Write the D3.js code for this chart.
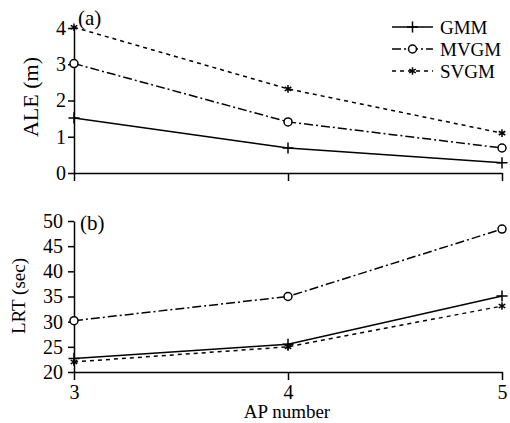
<!DOCTYPE html>
<html>
<head>
<meta charset="utf-8">
<script src="https://cdn.jsdelivr.net/npm/d3@7"></script>
<style>
  body { margin: 0; background: #fff; }
  svg text { font-family: "Liberation Serif", "Times New Roman", Times, serif !important; fill: #000; }
</style>
</head>
<body>
<svg id="chart"></svg>
<script>
var width = 510,
    height = 423;

// data
var apNumbers = [3, 4, 5];
var seriesNames = ["GMM", "MVGM", "SVGM"];
var aleGMM = [1.52, 0.69, 0.28];
var aleMVGM = [3.02, 1.41, 0.69];
var aleSVGM = [4.02, 2.32, 1.10];
var lrtGMM = [22.7, 25.5, 35.1];
var lrtMVGM = [30.2, 35.0, 48.4];
var lrtSVGM = [22.0, 25.0, 33.1];
var aleTicks = [0, 1, 2, 3, 4];
var lrtTicks = [20, 25, 30, 35, 40, 45, 50];

var styles = {
  GMM: { dash: null, symbol: d3.symbolPlus, size: 42, fill: "none" },
  MVGM: { dash: "9,3,2,3", symbol: d3.symbolCircle, size: 50, fill: "#fff" },
  SVGM: { dash: "4,4", symbol: d3.symbolAsterisk, size: 40, fill: "none" }
};

var serif = "'Liberation Serif', 'Times New Roman', serif";

var svg = d3.select("#chart").attr("width", width).attr("height", height)
  .attr("font-family", serif);

var x = d3.scaleLinear().domain([3, 5]).range([74, 502]);
var yTop = d3.scaleLinear().domain([0, 4]).range([173, 28]);
var yBot = d3.scaleLinear().domain([20, 50]).range([372, 221]);

function drawPanel(y, ticks, data, showLabels, pad) {
  var g = svg.append("g");

  var xAxis = d3.axisBottom(x).tickValues(apNumbers).tickSize(8).tickSizeOuter(0)
    .tickPadding(5)
    .tickFormat(showLabels ? d3.format("d") : "");
  var xg = g.append("g").attr("transform", "translate(0," + y.range()[0] + ")").call(xAxis);
  xg.attr("font-family", serif).attr("font-size", 20);
  xg.select(".domain").attr("stroke-width", 1.5);
  xg.selectAll(".tick line").attr("stroke-width", 1.5);

  var yAxis = d3.axisLeft(y).tickValues(ticks).tickSize(6).tickSizeOuter(0).tickPadding(pad)
    .tickFormat(d3.format("d"));
  var yg = g.append("g").attr("transform", "translate(" + x.range()[0] + ",0)").call(yAxis);
  yg.attr("font-family", serif).attr("font-size", 20);
  yg.select(".domain").attr("stroke-width", 1.5);
  yg.selectAll(".tick line").attr("stroke-width", 1.5);

  var line = d3.line().x(function(d, i) { return x(apNumbers[i]); }).y(function(d) { return y(d); });

  seriesNames.forEach(function(name, k) {
    var st = styles[name];
    g.append("path")
      .datum(data[k])
      .attr("d", line)
      .attr("fill", "none")
      .attr("stroke", "#000")
      .attr("stroke-width", 1.5)
      .attr("stroke-dasharray", st.dash);
    g.selectAll(".m" + name)
      .data(data[k])
      .enter().append("path")
      .attr("transform", function(d, i) { return "translate(" + x(apNumbers[i]) + "," + y(d) + ")"; })
      .attr("d", d3.symbol().type(st.symbol).size(st.size))
      .attr("fill", st.fill)
      .attr("stroke", "#000")
      .attr("stroke-width", 1.5);
  });
}

drawPanel(yTop, aleTicks, [aleGMM, aleMVGM, aleSVGM], false, 2);
drawPanel(yBot, lrtTicks, [lrtGMM, lrtMVGM, lrtSVGM], true, 5);

// panel tags
svg.append("text").attr("x", 78).attr("y", 25).attr("font-size", 21).text("(a)");
svg.append("text").attr("x", 80).attr("y", 230).attr("font-size", 21).text("(b)");

// axis titles
svg.append("text")
  .attr("transform", "translate(38,97) rotate(-90)")
  .attr("text-anchor", "middle")
  .attr("font-size", 22)
  .text("ALE (m)");
svg.append("text")
  .attr("transform", "translate(25,296) rotate(-90)")
  .attr("text-anchor", "middle")
  .attr("font-size", 19)
  .text("LRT (sec)");
svg.append("text")
  .attr("x", 287).attr("y", 418)
  .attr("text-anchor", "middle")
  .attr("font-size", 19)
  .text("AP number");

// legend
var legend = svg.append("g");
seriesNames.forEach(function(name, k) {
  var st = styles[name];
  var ly = 27 + k * 22;
  legend.append("line")
    .attr("x1", 392).attr("x2", 433).attr("y1", ly).attr("y2", ly)
    .attr("stroke", "#000").attr("stroke-width", 1.5)
    .attr("stroke-dasharray", st.dash);
  legend.append("path")
    .attr("transform", "translate(412.5," + ly + ")")
    .attr("d", d3.symbol().type(st.symbol).size(st.size))
    .attr("fill", st.fill)
    .attr("stroke", "#000").attr("stroke-width", 1.5);
  legend.append("text")
    .attr("x", 440).attr("y", ly + 6.5)
    .attr("font-size", 19)
    .text(name);
});
</script>
</body>
</html>
